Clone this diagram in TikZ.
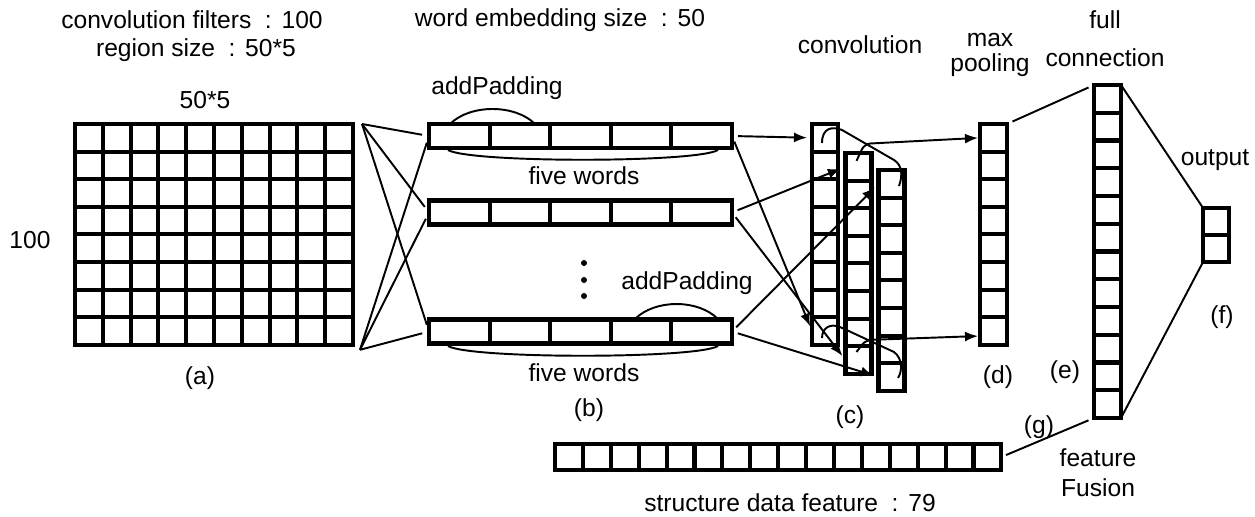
\documentclass[tikz,border=0pt]{standalone}
\usepackage{fontspec}
\setmainfont{Liberation Sans}
\usetikzlibrary{arrows.meta, positioning}
\tikzstyle{cell} = [rectangle, draw=black, line width=2.3pt, inner sep=0pt, outer sep=0pt, minimum width=5.5mm, minimum height=5.5mm]
\tikzstyle{link} = [line width=1.1pt]
\tikzstyle{arrow} = [line width=1.1pt, ->, >={Latex[length=2.6mm, width=2mm]}]
\tikzstyle{txt} = [font=\fontsize{14}{16}\selectfont, inner sep=0pt]
\tikzstyle{dot} = [circle, fill=black, inner sep=0pt, minimum size=1.2mm]
\newcommand{\fcolon}{\hspace{0.55em}:\hspace{0.4em}}

\begin{document}
\begin{tikzpicture}[x=0.2mm, y=-0.2mm]
\useasboundingbox (0,0) rectangle (1255,516);

% (a) filter matrix
\foreach \i in {1,...,10}
  \foreach \j in {1,...,8}
    \node (a-\i-\j) [cell, minimum width=5.56mm, minimum height=5.52mm] at ({75+27.8*(\i-0.5)}, {124+27.6*(\j-0.5)}) {};
\coordinate (a-top) at ([xshift=1.8mm]a-10-1.north east);
\coordinate (a-bot) at ([xshift=1.4mm, yshift=-1mm]a-10-8.south east);

\node (filters) [txt] at (192,20) {convolution filters\fcolon 100};
\node (region) [txt] at (196,50) {region size\fcolon 50*5};
\node (asize) [txt] at (205,100) {50*5};
\node (arows) [txt] at (30,240) {100};
\node (alab) [txt] at (200,378) {(a)};

% (b) word rows
\foreach \r/\y in {1/136, 2/212.5, 3/331.5}
  \foreach \k in {1,...,5}
    \node (b\r-\k) [cell, minimum width=12.12mm, minimum height=4.8mm] at ({429+60.6*(\k-0.5)}, \y) {};

\foreach \r in {1,2,3} {
  \draw [link, shorten >=1.4mm] (a-top) -- (b\r-1.west);
  \draw [link, shorten >=1.4mm] (a-bot) -- (b\r-1.west);
}

\node (embed) [txt] at (560,20) {word embedding size\fcolon 50};
\node (pad1) [txt] at (497,88) {addPadding};
\node (pad2) [txt] at (687,283) {addPadding};
\node (five1) [txt] at (584,176) {five words};
\node (five2) [txt] at (584,373) {five words};
\node (blab) [txt] at (589,410) {(b)};

\draw [link] (450,124) .. controls (470,104) and (515,104) .. (535,124);
\draw [link] (635,319) .. controls (655,299) and (698,299) .. (718,319);
\draw [link] (448,150) .. controls (470,163) and (696,163) .. (718,150);
\draw [link] (448,346) .. controls (470,359) and (696,359) .. (718,346);

\foreach \k/\y in {1/263, 2/280, 3/296}
  \node (dot\k) [dot] at (584,\y) {};

% (c) convolution
\foreach \c/\x/\t in {1/825/124, 2/858.5/153, 3/891.5/170}
  \foreach \k in {1,...,8}
    \node (c\c-\k) [cell, minimum width=5.2mm, minimum height=5.52mm] at (\x, {\t+27.6*(\k-0.5)}) {};

\foreach \r/\c in {1/1, 2/2, 3/3} {
  \draw [arrow, shorten <=1.2mm, shorten >=1mm] (b\r-5.east) -- (c\c-1.west);
  \draw [arrow, shorten <=1.2mm, shorten >=1mm] (b\r-5.east) -- (c\c-8.west);
}

% sliding windows
\draw [link] (822,143) .. controls (822,128) and (832,126) .. (842,130) -- (894,160) .. controls (902,165) and (903,175) .. (899,186);
\draw [link] (822,338) .. controls (822,328) and (830,323) .. (840,327) -- (894,352) .. controls (902,358) and (903,370) .. (898,378);

\node (conv) [txt] at (860,45) {convolution};
\node (clab) [txt] at (850,417) {(c)};

% (d) max pooling
\foreach \k in {1,...,8}
  \node (d-\k) [cell, minimum width=5.4mm, minimum height=5.52mm] at (993.5, {124+27.6*(\k-0.5)}) {};

\draw [arrow, rounded corners=1.2mm, shorten >=0.4mm] ([shift={(-2,-6)}]c2-1.center) -- ++(8,-17) -- (d-1.west);
\draw [arrow, rounded corners=1.2mm, shorten >=0.4mm] ([shift={(-2,-8)}]c2-8.center) -- ++(9,-12) -- ([yshift=-1mm]d-8.west);

\node (max) [txt] at (990,40) {max};
\node (pool) [txt] at (990,65) {pooling};
\node (dlab) [txt] at (998,377) {(d)};

% (e) full connection
\foreach \k in {1,...,12}
  \node (e-\k) [cell, minimum width=5.4mm, minimum height=5.55mm] at (1107.5, {85+27.75*(\k-0.5)}) {};

\node (full) [txt] at (1105,20) {full};
\node (conn) [txt] at (1105,58) {connection};
\node (elab) [txt] at (1065,372) {(e)};

% (f) output
\foreach \k in {1,2}
  \node (f-\k) [cell, minimum width=5.2mm, minimum height=5.4mm] at (1216, {208+27*(\k-0.5)}) {};

\node (out) [txt] at (1215,160) {output};
\node (flab) [txt] at (1222,317) {(f)};

% (g) structure data
\foreach \k in {1,...,16}
  \node (g-\k) [cell, minimum width=5.58mm, minimum height=5.2mm] at ({555+27.9*(\k-0.5)}, 457) {};

\node (struct) [txt] at (790,503) {structure data feature\fcolon 79};
\node (glab) [txt] at (1039,427) {(g)};
\node (feat) [txt] at (1098,458) {feature};
\node (fusion) [txt] at (1098,488) {Fusion};

\draw [link, shorten <=1.2mm, shorten >=1.2mm] (d-1.north east) -- (e-1.north west);
\draw [link, shorten <=0.4mm] (e-1.north east) -- (f-1.north west);
\draw [link, shorten <=0.4mm] (e-12.south east) -- (f-2.south west);
\draw [link, shorten <=1mm, shorten >=1.2mm] (g-16.east) -- (e-12.south west);

\end{tikzpicture}
\end{document}
